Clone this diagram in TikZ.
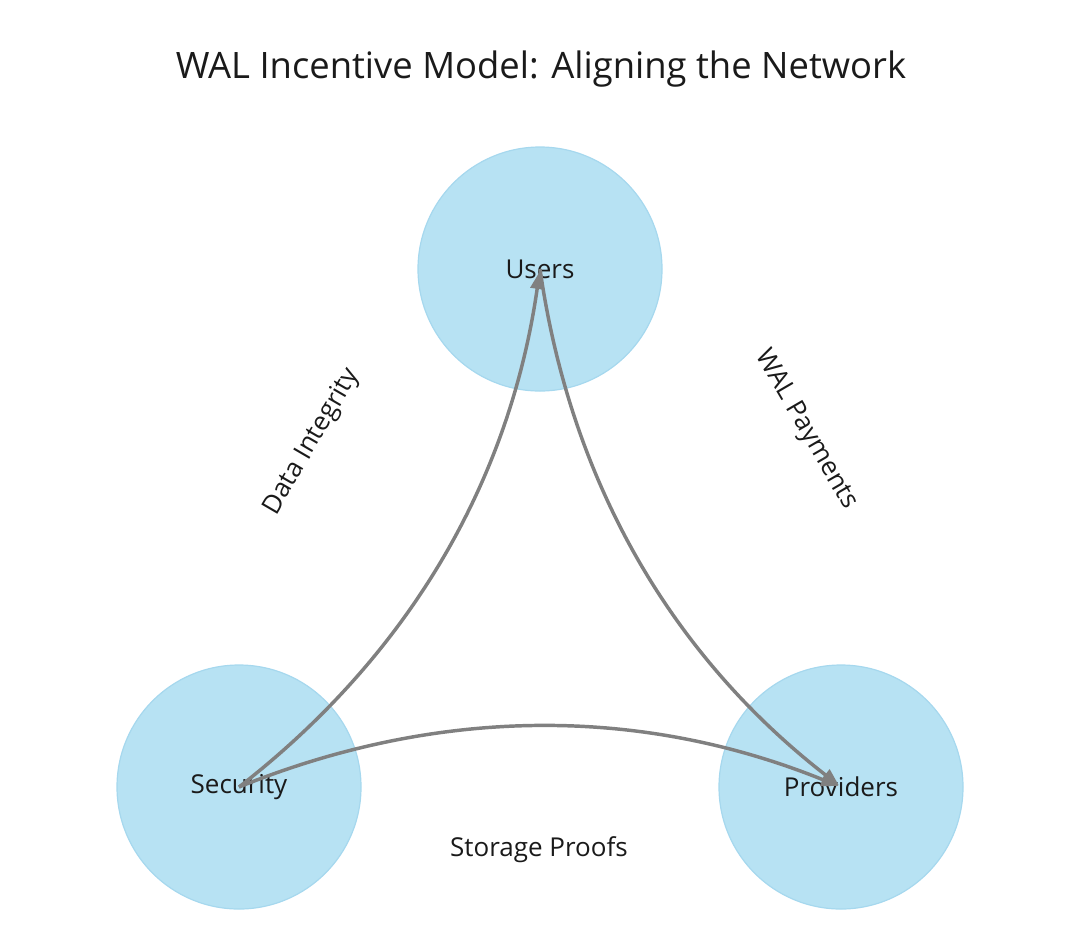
\documentclass[tikz,border=0pt]{standalone}
\usepackage{fontspec}
\setmainfont{Open Sans}
\usetikzlibrary{arrows.meta}
\definecolor{nodefill}{HTML}{B7E2F3}
\definecolor{nodeedge}{HTML}{A6D8EE}
\definecolor{edgegray}{HTML}{808080}
\definecolor{txt}{HTML}{1A1A1A}
\tikzset{
  bubble/.style={circle, fill=nodefill, draw=nodeedge, line width=0.9pt, minimum size=183pt, inner sep=0pt},
  lbl/.style={font=\fontsize{19.5}{23}\selectfont, text=txt, inner sep=0pt},
  conn/.style={draw=edgegray, line width=2.6pt, -{Triangle[length=13pt,width=10pt]}, shorten >=2pt},
}
\begin{document}
\begin{tikzpicture}[x=0.75pt,y=-0.75pt]
\useasboundingbox (0,0) rectangle (1080,947);
\node[font=\fontsize{27.3}{32}\selectfont, text=txt] (title) at (541,69) {WAL Incentive Model: Aligning the Network};
\node[bubble] (usrc) at (540,269) {};
\node[bubble] (secc) at (239,787) {};
\node[bubble] (provc) at (841,787) {};
\node[lbl] (usr) at (540,269) {Users};
\node[lbl] (sec) at (239,787) {Security};
\node[lbl] (prov) at (841,787) {Providers};
\draw[conn] (sec.center) to[bend right=22, looseness=0.92] (usr.center);
\draw[conn] (usr.center) to[bend right=22, looseness=0.92] (prov.center);
\draw[conn] (sec.center) to[bend left=22, looseness=0.92] (prov.center);
\node[lbl, rotate=59.8] (l1) at (312,442) {Data Integrity};
\node[lbl, rotate=-59.8] (l2) at (806,430) {WAL Payments};
\node[lbl] (l3) at (539,850) {Storage Proofs};
\end{tikzpicture}
\end{document}
